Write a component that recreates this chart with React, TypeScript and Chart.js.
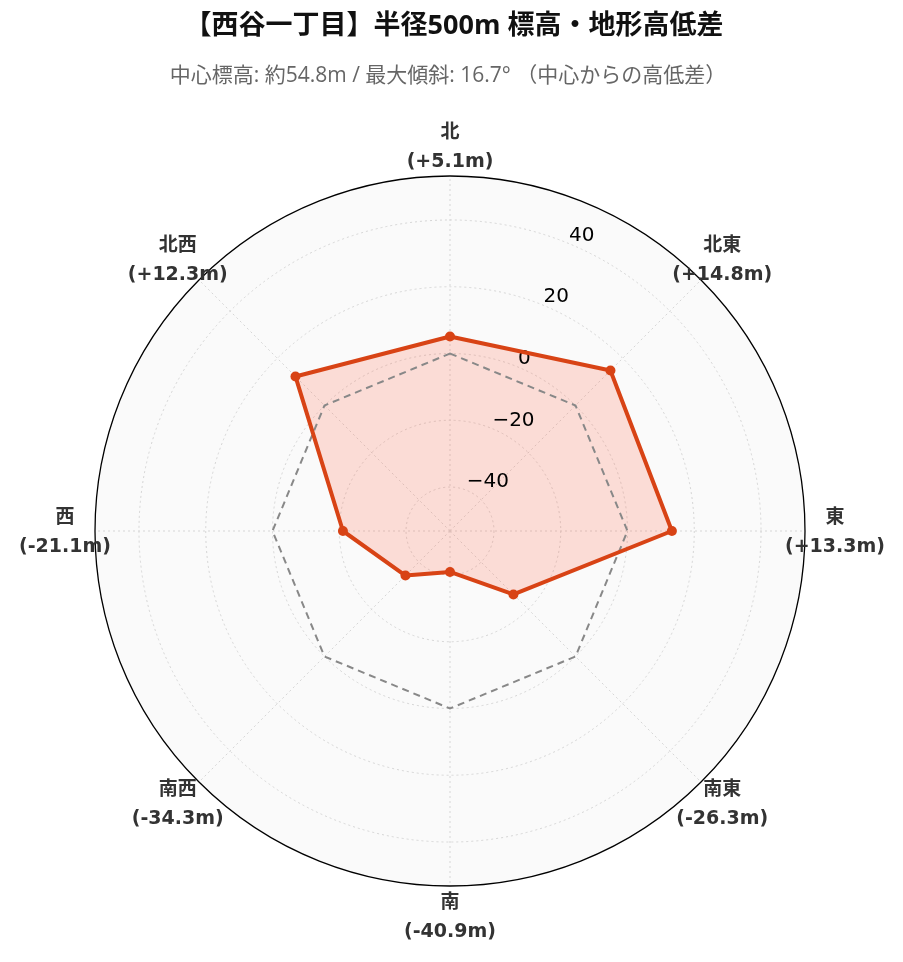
import React, { useEffect, useRef } from "react";
import { Chart, registerables } from "chart.js";

Chart.register(...registerables);

const TITLE = "【西谷一丁目】半径500m 標高・地形高低差";
const SUBTITLE = "中心標高: 約54.8m / 最大傾斜: 16.7° （中心からの高低差）";
const directions = ["北", "北東", "東", "南東", "南", "南西", "西", "北西"];
const elevationDiff = [5.1, 14.8, 13.3, -26.3, -40.9, -34.3, -21.1, 12.3];
const valueLabels = ["(+5.1m)", "(+14.8m)", "(+13.3m)", "(-26.3m)", "(-40.9m)", "(-34.3m)", "(-21.1m)", "(+12.3m)"];
const referenceLine = [0, 0, 0, 0, 0, 0, 0, 0];
const tickValues = [-40, -20, 0, 20, 40];
const tickLabels = ["−40", "−20", "0", "20", "40"];
const R_MIN = -53.17;
const R_MAX = 53.17;

const TEXT_FONT = '"Open Sans", "Noto Sans CJK JP", sans-serif';
const LABEL_FONT = '"DejaVu Sans", "Noto Sans CJK JP", sans-serif';

const customPlugin = {
  id: "customRadar",
  afterLayout(chart: any) {
    const s = chart.scales.r;
    s.xCenter = 450;
    s.yCenter = 531;
    s.drawingArea = 355;
  },
  beforeDatasetsDraw(chart: any) {
    const ctx = chart.ctx;
    const s = chart.scales.r;
    ctx.save();
    ctx.beginPath();
    ctx.arc(s.xCenter, s.yCenter, s.drawingArea, 0, Math.PI * 2);
    ctx.strokeStyle = "#000";
    ctx.lineWidth = 1.3;
    ctx.stroke();
    ctx.font = '20px "DejaVu Sans", sans-serif';
    ctx.fillStyle = "#000";
    ctx.textAlign = "left";
    ctx.textBaseline = "alphabetic";
    tickValues.forEach((v, i) => {
      const d = s.getDistanceFromCenterForValue(v);
      const p = s.getPointPosition(0, d, Math.PI / 8);
      ctx.fillText(tickLabels[i], p.x, p.y - 3);
    });
    ctx.restore();
  },
  afterDraw(chart: any) {
    const ctx = chart.ctx;
    const s = chart.scales.r;
    ctx.save();
    ctx.textAlign = "center";
    ctx.textBaseline = "middle";
    ctx.fillStyle = "#333";
    ctx.font = "bold 19px " + LABEL_FONT;
    directions.forEach((name, i) => {
      const p = s.getPointPosition(i, s.drawingArea + 30);
      ctx.fillText(name, p.x, p.y - 13);
      ctx.fillText(valueLabels[i], p.x, p.y + 16);
    });
    ctx.fillStyle = "#111";
    ctx.font = "bold 27px " + TEXT_FONT;
    ctx.fillText(TITLE, 454, 26);
    ctx.fillStyle = "#666";
    ctx.font = "21px " + TEXT_FONT;
    ctx.fillText(SUBTITLE, 448, 76);
    ctx.restore();
  },
};

export default function App() {
  const ref = useRef<HTMLCanvasElement>(null);
  useEffect(() => {
    if (!ref.current) return;
    const chart = new Chart(ref.current, {
      type: "radar",
      data: {
        labels: directions,
        datasets: [
          {
            label: "高低差",
            data: elevationDiff,
            borderColor: "#d84315",
            backgroundColor: "rgba(255,99,71,0.2)",
            borderWidth: 4,
            borderJoinStyle: "round",
            pointRadius: 5,
            pointBackgroundColor: "#d84315",
            pointBorderWidth: 0,
            fill: "start",
            tension: 0,
            order: 0,
          },
          {
            label: "基準",
            data: referenceLine,
            borderColor: "#888888",
            borderWidth: 2,
            borderDash: [7, 5],
            pointRadius: 0,
            fill: false,
            tension: 0,
            order: 1,
          },
        ],
      },
      options: {
        responsive: false,
        animation: false,
        devicePixelRatio: 1,
        layout: { padding: 0 },
        plugins: {
          legend: { display: false },
          title: { display: false },
          tooltip: { enabled: false },
          filler: { drawTime: "beforeDatasetsDraw" },
        },
        scales: {
          r: {
            min: R_MIN,
            max: R_MAX,
            startAngle: 0,
            backgroundColor: "#fafafa",
            afterBuildTicks: (scale: any) => {
              scale.ticks = tickValues.map((v) => ({ value: v }));
            },
            ticks: { display: false },
            pointLabels: { display: false },
            grid: { circular: true, color: "#d6d6d6", lineWidth: 1 },
            border: { dash: [2, 3] },
            angleLines: { display: true, color: "#d6d6d6", lineWidth: 1, borderDash: [2, 3] },
          },
        },
      },
      plugins: [customPlugin],
    } as any);
    return () => chart.destroy();
  }, []);
  return (
    <canvas
      ref={ref}
      width={903}
      height={962}
      style={{ position: "absolute", left: 0, top: 0, width: 903, height: 962 }}
    />
  );
}
